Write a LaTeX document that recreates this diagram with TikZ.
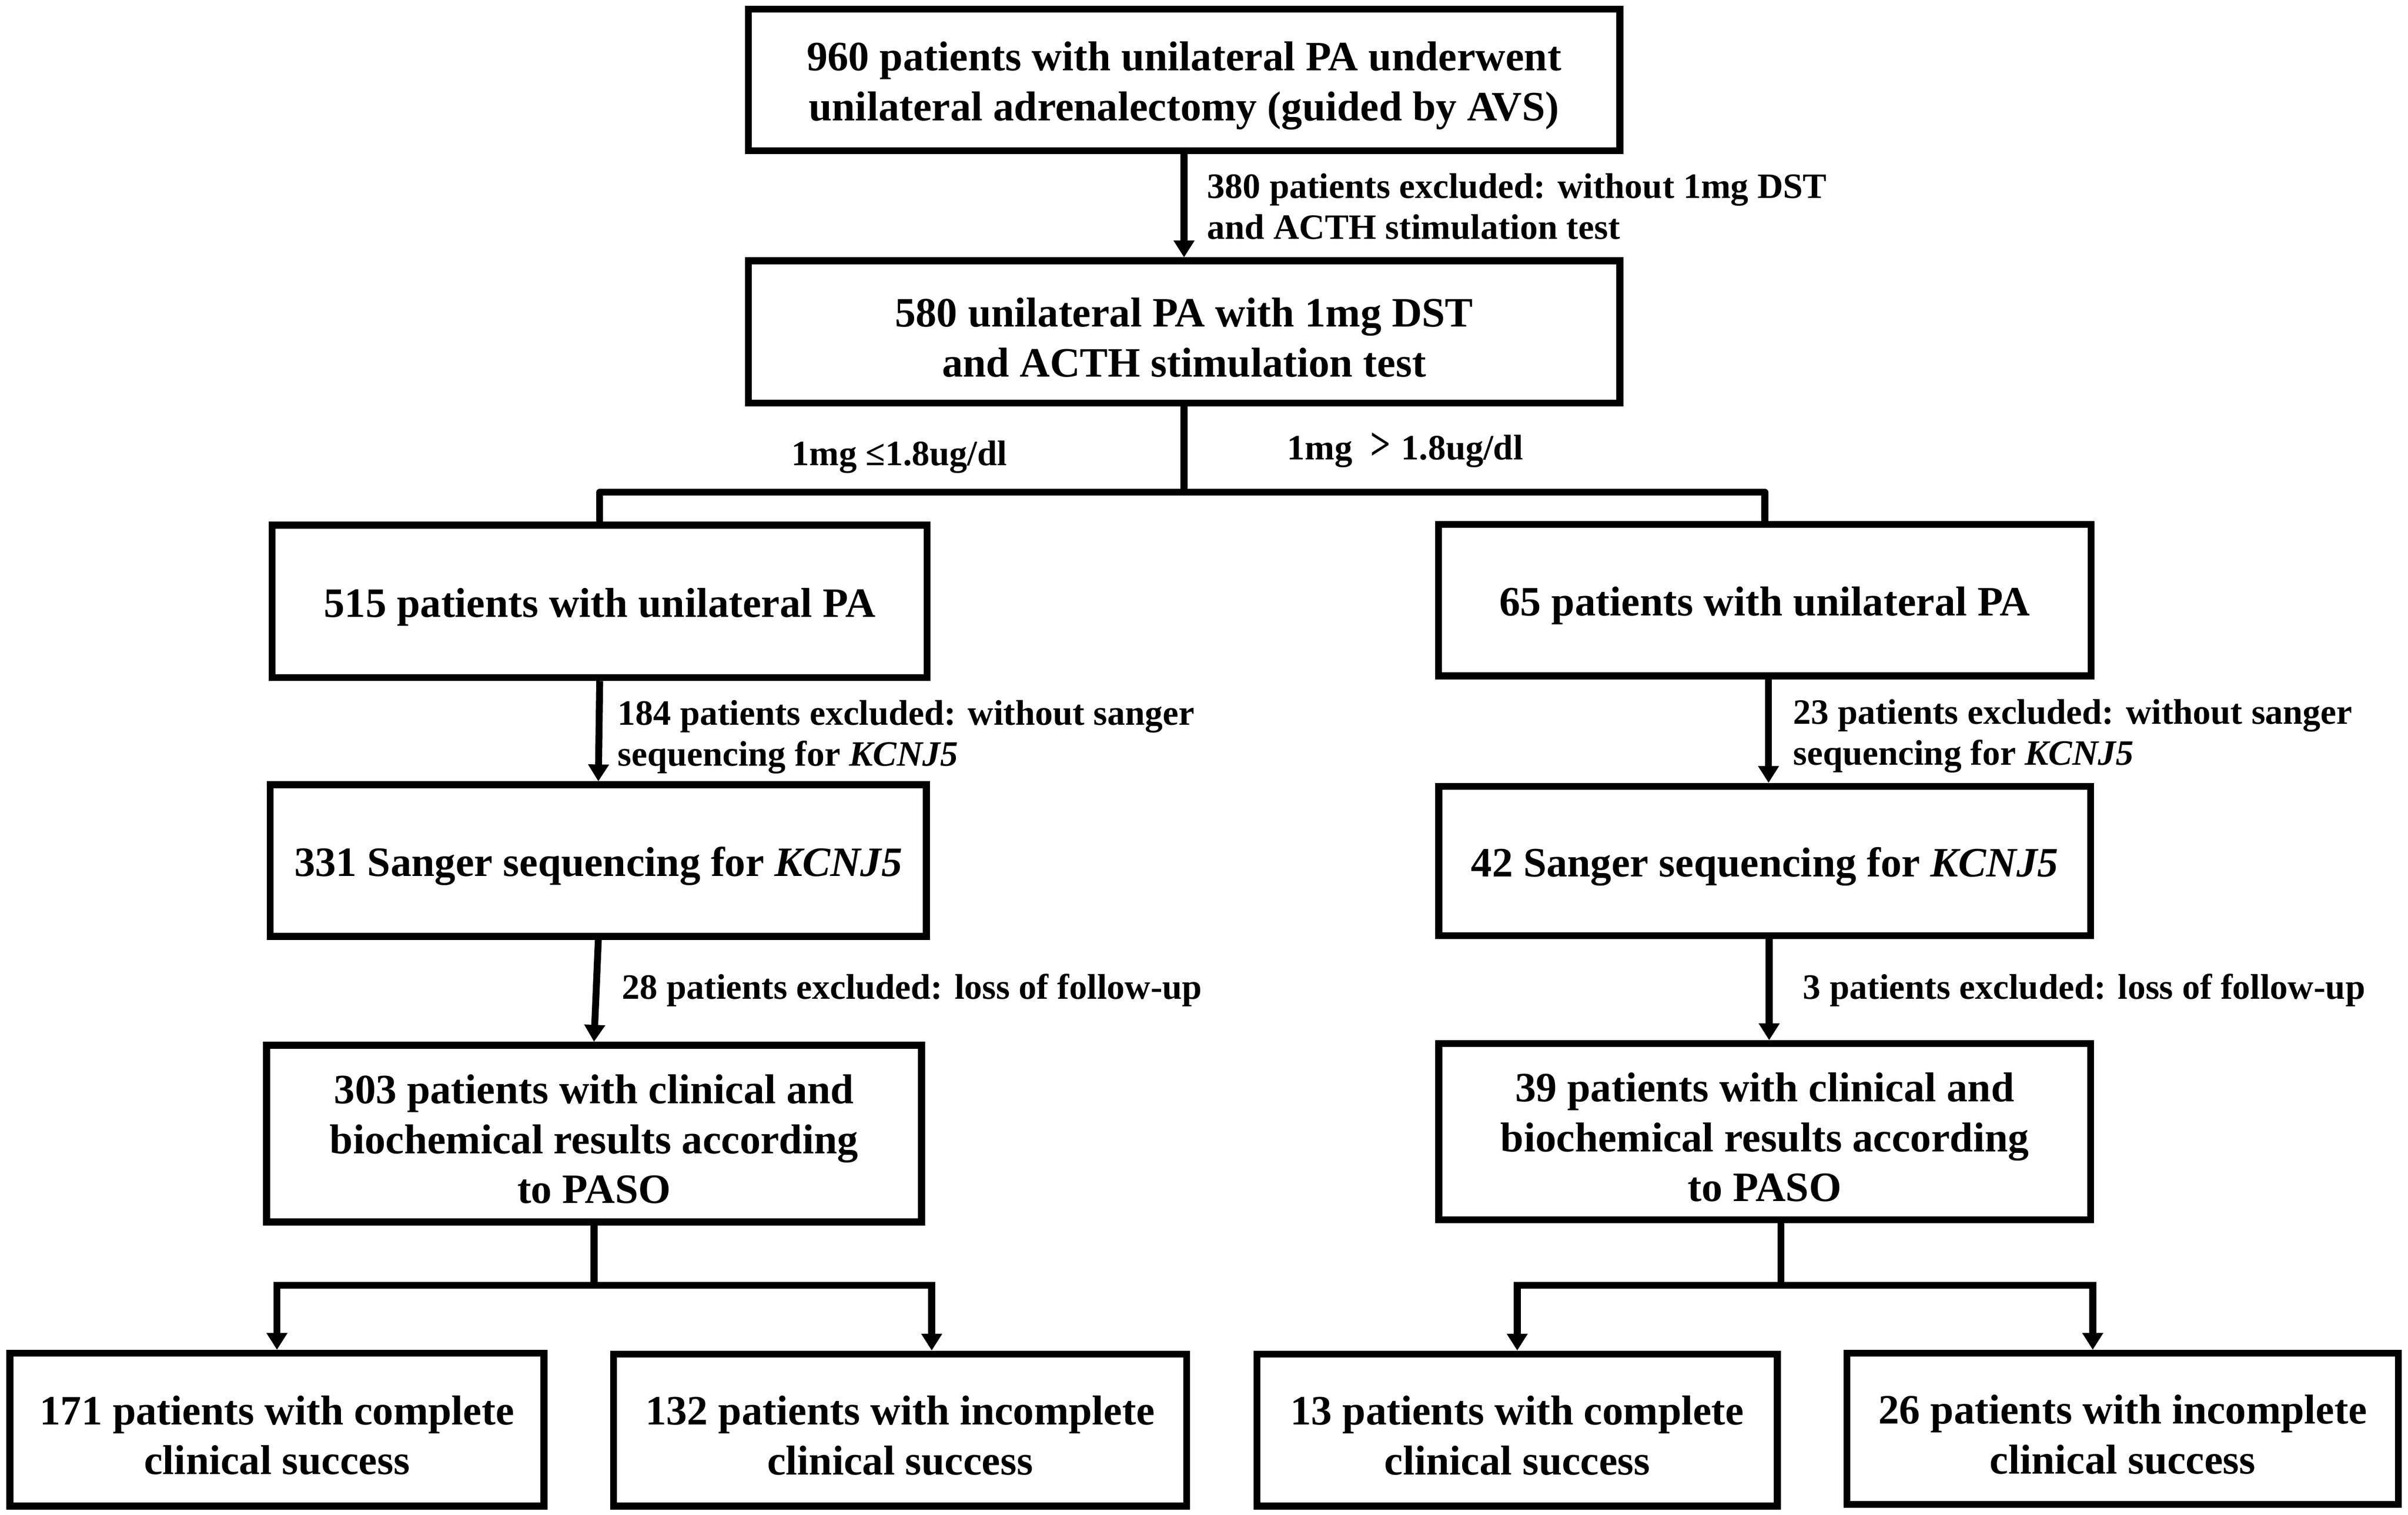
\documentclass[tikz,border=0pt]{standalone}
\usepackage{fontspec}
\usepackage{graphicx}
\setmainfont{Liberation Serif}
\usetikzlibrary{arrows.meta}
\newcommand\flowbox[6]{%
  \node[box, minimum width={(#4-#2-4.5)*0.5pt}, minimum height={(#5-#3-4.5)*0.5pt}] (#1) at ({(#2+#4)/2},{(#3+#5)/2}) {};
  \node[boxtext] (#1t) at ([yshift=-1.8pt]#1.center) {#6};}
\begin{document}
\begin{tikzpicture}[x=0.5pt,y=-0.5pt,
  box/.style={draw, line width=2.25pt, inner sep=0pt},
  boxtext/.style={align=center, inner sep=0pt, font=\fontsize{13.6pt}{16.25pt}\selectfont\bfseries},
  lbl/.style={align=left, inner sep=0pt, anchor=base west, font=\fontsize{11.6pt}{13.3pt}\selectfont\bfseries},
  conn/.style={line width=2.25pt},
  arr/.style={line width=2.25pt, -{Triangle[length=5.5pt,width=6.5pt]}},
  arrs/.style={line width=2.25pt, {Triangle[length=5.5pt,width=6.5pt]}-{Triangle[length=5.5pt,width=6.5pt]}},
]
\useasboundingbox[fill=white] (0,0) rectangle (1568,986.5);

\flowbox{b1}{485}{3.8}{1057}{100.5}{960 patients with unilateral PA underwent\\unilateral adrenalectomy (guided by AVS)}
\flowbox{b2}{485}{167.6}{1057}{264.7}{580 unilateral PA with 1mg DST\\and ACTH stimulation test}
\flowbox{b3}{175}{339.7}{606}{443.5}{515 patients with unilateral PA}
\flowbox{b4}{934.5}{339.3}{1363.8}{442.4}{65 patients with unilateral PA}
\flowbox{b5}{173.7}{508.8}{605.5}{612}{331 Sanger sequencing for \textit{KCNJ5}}
\flowbox{b6}{934.6}{509.8}{1363.6}{611.6}{42 Sanger sequencing for \textit{KCNJ5}}
\flowbox{b7}{171.3}{678.4}{602.3}{798}{303 patients with clinical and\\biochemical results according\\to PASO}
\flowbox{b8}{934.6}{677.4}{1363.6}{796.6}{39 patients with clinical and\\biochemical results according\\to PASO}
\flowbox{b9}{4.2}{879}{356.5}{983}{171 patients with complete\\clinical success}
\flowbox{b10}{397.2}{879.5}{775}{983}{132 patients with incomplete\\clinical success}
\flowbox{b11}{816.3}{879.5}{1159.6}{983}{13 patients with complete\\clinical success}
\flowbox{b12}{1200.4}{879}{1564}{982}{26 patients with incomplete\\clinical success}

\node[lbl] (l1) at (785.7,155.6) {380 patients excluded: without 1mg DST\\and ACTH stimulation test};
\node[lbl] (l2) at (515,303) {1mg ≤1.8ug/dl};
\node[lbl] (l3) at (837.8,299.4) {1mg\hspace{0.5em}\scalebox{1}[1.3]{>}\hspace{0.3em}1.8ug/dl};
\node[lbl] (l4) at (401.8,498.8) {184 patients excluded: without sanger\\sequencing for \textit{KCNJ5}};
\node[lbl] (l5) at (1167.3,498) {23 patients excluded: without sanger\\sequencing for \textit{KCNJ5}};
\node[lbl] (l6) at (404.7,650.7) {28 patients excluded: loss of follow-up};
\node[lbl] (l7) at (1173.7,650.7) {3 patients excluded: loss of follow-up};

\coordinate (j1) at (770,320.5);
\coordinate (j2) at (386.8,837);
\coordinate (a10) at (606.7,837);
\coordinate (j3) at (1159.7,837);
\coordinate (a12) at (1362.7,837);
\coordinate (c46) at (1151.6,476);
\coordinate (c68) at (1152,645);

\draw[arr] (b1.south) -- (b2.north);
\draw[conn] (b2.south) -- (b2.south |- j1);
\draw[conn, line join=round] (b3.north) -- (b3.north |- j1) -- (b4.north |- j1) -- (b4.north);
\draw[arr] (b3.south) -- (b5.north);
\draw[arr] (b4.south -| c46) -- (b6.north -| c46);
\draw[arr] (b5.south) -- (b7.north);
\draw[arr] (b6.south -| c68) -- (b8.north -| c68);
\draw[conn] (b7.south) -- (b7.south |- j2);
\draw[arrs] (b9.north) -- (b9.north |- j2) -- (a10) -- (a10 |- b10.north);
\draw[conn] (b8.south -| j3) -- (j3);
\draw[arrs] (b11.north) -- (b11.north |- j3) -- (a12) -- (a12 |- b12.north);
\end{tikzpicture}
\end{document}
